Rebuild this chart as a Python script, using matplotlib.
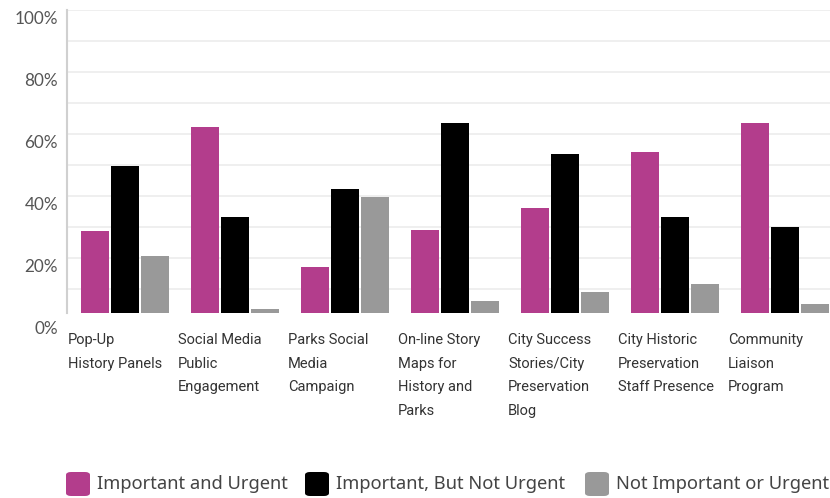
import numpy as np
import matplotlib
matplotlib.use("Agg")
import matplotlib.pyplot as plt
from matplotlib.patches import FancyBboxPatch
from matplotlib.transforms import blended_transform_factory, offset_copy

# Survey results: share of respondents per priority level
categories = [
    "Pop-Up\nHistory Panels",
    "Social Media\nPublic\nEngagement",
    "Parks Social\nMedia\nCampaign",
    "On-line Story\nMaps for\nHistory and\nParks",
    "City Success\nStories/City\nPreservation\nBlog",
    "City Historic\nPreservation\nStaff Presence",
    "Community\nLiaison\nProgram",
]
urgent = [28.7, 62.3, 17.1, 29.0, 36.1, 54.2, 63.5]
not_urgent = [49.7, 33.2, 42.3, 63.5, 53.5, 33.2, 30.0]
not_important = [20.6, 3.5, 39.7, 6.1, 9.0, 11.6, 5.2]

series_names = ["Important and Urgent", "Important, But Not Urgent", "Not Important or Urgent"]
series_values = [urgent, not_urgent, not_important]
colors = ["#b33d8c", "#000000", "#999999"]

W, H = 830, 498
fig = plt.figure(figsize=(W / 100, H / 100), dpi=100)
fig.patch.set_facecolor("white")

# axes box in pixel terms (left, bottom, right, top)
left, top, right, bottom = 67, 10, 837, 313
ax = fig.add_axes([left / W, 1 - bottom / H, (right - left) / W, (bottom - top) / H])

x = np.arange(len(categories))
step = 30 / 110
width = 28 / 110
for k, (vals, col) in enumerate(zip(series_values, colors)):
    ax.bar(x + (k - 1) * step + 0.025, vals, width=width, color=col, zorder=3)

ax.set_xlim(-0.5, len(categories) - 0.5)
ax.set_ylim(100 - (bottom - top) / 3.1, 100)

# light gridlines every 10%
for g in range(10, 101, 10):
    ax.axhline(g, color="#ececec", lw=1.2, zorder=1)

for s in ["top", "right", "bottom"]:
    ax.spines[s].set_visible(False)
ax.spines["left"].set_color("#d0d0d0")
ax.spines["left"].set_linewidth(1.5)
ax.set_xticks([])
ax.set_yticks([])

# percentage labels, sitting slightly below their gridline
ylab_tr = offset_copy(blended_transform_factory(fig.transFigure, ax.transData),
                      fig=fig, x=0, y=-9, units="dots")
for v in range(0, 101, 20):
    ax.text(58 / W, v, f"{v}%", transform=ylab_tr, ha="right", va="center",
            fontsize=12.3, color="#555555", family="Lato", clip_on=False)

# category labels under each group
xlab_tr = blended_transform_factory(ax.transData, fig.transFigure)
for i, lab in enumerate(categories):
    ax.text(i - 0.5 + 0.01, 1 - 333 / H, lab, transform=xlab_tr, ha="left", va="top",
            fontsize=10.5, color="#333333", linespacing=1.88,
            family=["Roboto", "DejaVu Sans"], clip_on=False)

# legend row at the bottom
leg_x = [66, 305, 585]
for lx, name, col in zip(leg_x, series_names, colors):
    box = FancyBboxPatch((lx / W, 1 - 496 / H), 24 / W, 24 / H,
                         boxstyle="round,pad=0,rounding_size=0.006",
                         transform=fig.transFigure, facecolor=col, edgecolor="none")
    fig.patches.append(box)
    fig.text((lx + 31) / W, 1 - 484 / H, name, ha="left", va="center",
             fontsize=13.2, color="#444444", family="Noto Sans")

fig.savefig("out.png", dpi=100)
